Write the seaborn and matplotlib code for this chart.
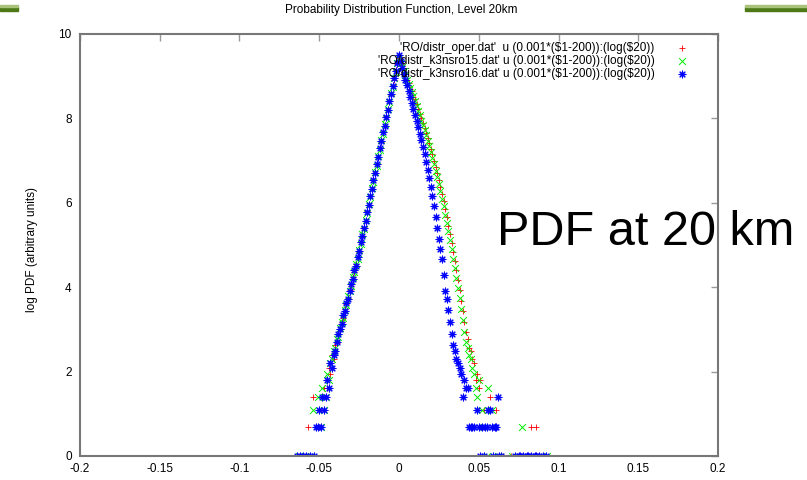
import numpy as np
import seaborn as sns
import matplotlib.pyplot as plt
from matplotlib.patches import Rectangle

# bin offsets ($1-200), shared core of all three files
core_bins = [-45, -44, -43, -42, -41, -40, -39, -38, -37, -36, -35, -34, -33, -32, -31,
             -30, -29, -28, -27, -26, -25, -24, -23, -22, -21, -20, -19, -18, -17, -16,
             -15, -14, -13, -12, -11, -10, -9, -8, -7, -6, -5, -4, -3, -2, -1, 0,
             1, 2, 3, 4, 5, 6, 7, 8, 9, 10, 11, 12, 13, 14, 15, 16, 17, 18, 19, 20,
             21, 22, 23, 24, 25, 26, 27, 28, 29, 30, 31, 32, 33, 34, 35, 36, 37, 38,
             39, 40, 41, 42, 43]

# log($20)
oper_core = [1.61, 2.08, 1.95, 2.40, 2.30, 2.64, 2.67, 2.89, 2.97, 3.17, 3.28, 3.48, 3.60,
             3.74, 3.93, 4.04, 4.24, 4.35, 4.55, 4.71, 4.84, 5.06, 5.20, 5.42, 5.56, 5.80,
             5.94, 6.17, 6.32, 6.54, 6.70, 6.92, 7.08, 7.30, 7.45, 7.68, 7.82, 8.05, 8.19,
             8.42, 8.56, 8.78, 8.92, 9.14, 9.28, 9.43,
             9.30, 9.24, 9.10, 9.05, 8.90, 8.85, 8.70, 8.66, 8.50, 8.46, 8.33, 8.22, 8.10,
             8.00, 7.88, 7.78, 7.66, 7.54, 7.42, 7.28, 7.15, 7.00, 6.86, 6.70, 6.55, 6.38,
             6.22, 6.04, 5.85, 5.66, 5.46, 5.26, 5.05, 4.84, 4.62, 4.40, 4.16, 3.93, 3.68,
             3.44, 3.18, 2.94, 2.77]
oper_tail_bins = [-61, -57, -54, -50, -49, -48, -47, -46, 44, 45, 46, 47, 48, 49, 50, 51,
                  53, 57, 60, 61, 65, 70, 83, 86, 90]
oper_tail = [0.0, 0.69, 1.39, 0.69, 1.10, 1.39, 1.61, 1.39, 2.56, 2.48, 2.30, 2.20, 1.79,
             1.95, 1.61, 1.79, 1.10, 1.39, 0.69, 1.10, 0.0, 0.0, 0.69, 0.69, 0.0]

k3_15_core = [1.95, 1.79, 2.20, 2.30, 2.48, 2.56, 2.77, 2.83, 3.04, 3.18, 3.26, 3.47, 3.58,
              3.79, 3.92, 4.03, 4.25, 4.36, 4.55, 4.68, 4.88, 5.02, 5.25, 5.38, 5.60, 5.76,
              5.98, 6.13, 6.36, 6.50, 6.74, 6.88, 7.12, 7.26, 7.49, 7.64, 7.86, 8.01, 8.23,
              8.38, 8.60, 8.74, 8.96, 9.10, 9.31, 9.44,
              9.32, 9.22, 9.12, 9.02, 8.92, 8.82, 8.72, 8.62, 8.52, 8.42, 8.30, 8.18, 8.07,
              7.95, 7.84, 7.72, 7.60, 7.47, 7.34, 7.20, 7.06, 6.91, 6.76, 6.60, 6.44, 6.27,
              6.10, 5.92, 5.72, 5.52, 5.32, 5.12, 4.90, 4.68, 4.45, 4.22, 3.98, 3.74, 3.48,
              3.22, 2.94, 2.71, 2.56]
k3_15_tail_bins = [-63, -59, -55, -54, -51, -49, -48, -47, -46, 44, 45, 46, 47, 48, 49, 50,
                   52, 53, 55, 56, 58, 62, 71, 77, 93]
k3_15_tail = [0.0, 0.0, 0.0, 1.10, 1.39, 0.69, 1.61, 1.10, 1.39, 2.40, 2.30, 2.08, 1.95,
              1.61, 1.39, 1.79, 1.10, 0.69, 0.0, 1.61, 1.10, 0.0, 0.0, 0.69, 0.0]

k3_16_core = [1.79, 1.61, 2.20, 2.08, 2.40, 2.50, 2.71, 2.88, 3.02, 3.12, 3.33, 3.43, 3.63,
              3.73, 3.91, 4.08, 4.20, 4.40, 4.50, 4.72, 4.85, 5.06, 5.21, 5.41, 5.57, 5.79,
              5.95, 6.16, 6.33, 6.53, 6.71, 6.91, 7.09, 7.29, 7.46, 7.67, 7.83, 8.04, 8.20,
              8.41, 8.57, 8.77, 8.95, 9.13, 9.32, 9.50,
              9.35, 9.20, 9.05, 8.92, 8.78, 8.64, 8.50, 8.36, 8.22, 8.08, 7.94, 7.80, 7.64,
              7.48, 7.32, 7.15, 6.97, 6.78, 6.58, 6.38, 6.17, 5.92, 5.66, 5.40, 5.14, 4.90,
              4.66, 4.30, 3.90, 3.72, 3.46, 3.18, 2.89, 2.64, 2.48, 2.30, 2.20, 2.08, 1.95,
              1.39, 1.79, 1.61, 1.61]
k3_16_tail_bins = [-64, -62, -60, -58, -56, -53, -52, -51, -50, -49, -48, -47, -46,
                   44, 45, 46, 47, 49, 50, 51, 52, 53, 54, 55, 56, 57, 58, 59, 60, 61, 62,
                   63, 64, 73, 75, 76, 78, 80, 81, 83, 85, 86, 88, 90, 92]
k3_16_tail = [0.0, 0.0, 0.0, 0.0, 0.0, 0.0, 0.69, 0.69, 1.10, 0.69, 1.39, 1.10, 1.39,
              0.69, 0.69, 0.69, 0.69, 1.10, 0.69, 0.0, 0.69, 0.0, 0.69, 0.69, 1.10, 1.10,
              0.69, 0.0, 0.69, 0.69, 1.39, 0.0, 0.0, 0.0, 0.0, 0.0, 0.0, 0.0, 0.0, 0.0,
              0.0, 0.0, 0.0, 0.0, 0.0]

labels = [r"'RO/distr_oper.dat'  u (0.001*(\$1-200)):(log(\$20))",
          r"'RO/distr_k3nsro15.dat' u (0.001*(\$1-200)):(log(\$20))",
          r"'RO/distr_k3nsro16.dat' u (0.001*(\$1-200)):(log(\$20))"]
xticks = [-0.2, -0.15, -0.1, -0.05, 0, 0.05, 0.1, 0.15, 0.2]
xticklabels = ["-0.2", "-0.15", "-0.1", "-0.05", "0", "0.05", "0.1", "0.15", "0.2"]
yticks = [0, 2, 4, 6, 8, 10]

sns.set_style("white")
plt.rcParams['font.family'] = ['Liberation Sans', 'DejaVu Sans']
plt.rcParams['text.color'] = 'black'
plt.rcParams['xtick.labelcolor'] = 'black'
plt.rcParams['ytick.labelcolor'] = 'black'
plt.rcParams['axes.labelcolor'] = 'black'

fig = plt.figure(figsize=(8.07, 4.8), dpi=100)
ax = fig.add_axes([80 / 807, 1 - 456 / 480, 638 / 807, 422 / 480])

series = [
    (core_bins + oper_tail_bins, oper_core + oper_tail, "+", "#ff0000", 0.6),
    (core_bins + k3_15_tail_bins, k3_15_core + k3_15_tail, "x", "#00ee00", 0.7),
    (core_bins + k3_16_tail_bins, k3_16_core + k3_16_tail, (8, 2, 0), "#0000ff", 0.8),
]
for (bins, vals, mk, col, lw), lab in zip(series, labels):
    x = 0.001 * np.array(bins)
    sns.scatterplot(x=x, y=vals, ax=ax, marker=mk, color=col, s=24,
                    linewidth=lw, label=lab)

ax.set_xlim(-0.2, 0.2)
ax.set_ylim(0, 10)
ax.set_xticks(xticks)
ax.set_xticklabels(xticklabels)
ax.set_yticks(yticks)
ax.tick_params(direction="in", length=5, width=1, color="#999999",
               top=True, right=True, labelsize=8.5)
ax.tick_params(axis="x", pad=5)
ax.tick_params(axis="y", pad=6)
for sp in ax.spines.values():
    sp.set_color("#777777")
    sp.set_linewidth(1.5)

ax.set_xlabel("")
ax.set_ylabel("log PDF (arbitrary units)", fontsize=8.5)
ax.yaxis.set_label_coords(-42 / 638, 0.49)

leg = ax.legend(loc="upper right", bbox_to_anchor=(1 - 27 / 638, 1 - 8 / 422),
                markerfirst=False, frameon=False, fontsize=8.5, handletextpad=1.6,
                labelspacing=0.1, borderaxespad=0, borderpad=0, handlelength=1.5)

fig.text(0.497, 0.979, "Probability Distribution Function, Level 20km",
         ha="center", va="center", fontsize=8.5)
fig.text(497 / 807, 1 - 245 / 480, "PDF at 20 km", fontsize=35, ha="left",
         va="baseline", color="black")

# green header bars
for x0, w in [(0, 18), (745, 62)]:
    fig.patches.append(Rectangle((x0 / 807, 1 - 11 / 480), w / 807, 4 / 480,
                                 transform=fig.transFigure, color="#4d7a17"))
    fig.patches.append(Rectangle((x0 / 807, 1 - 7 / 480), w / 807, 1.5 / 480,
                                 transform=fig.transFigure, color="#a9c47a"))

fig.savefig("out.png", dpi=100)
